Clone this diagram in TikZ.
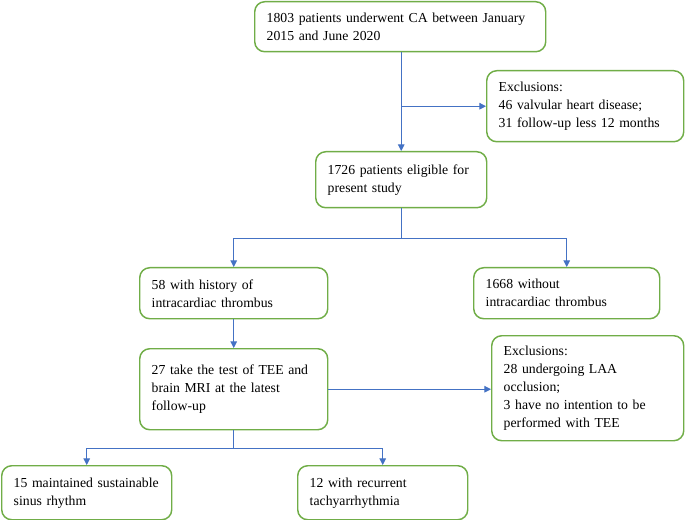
\documentclass[tikz,border=0pt]{standalone}
\usepackage{fontspec}
\setmainfont{Liberation Serif}
\usetikzlibrary{arrows.meta}
\definecolor{boxgreen}{HTML}{70AD47}
\definecolor{linkblue}{HTML}{4472C4}
\tikzset{
  flowbox/.style={draw=boxgreen, line width=1.1pt, rounded corners=7.5pt,
    anchor=north west, align=left, inner xsep=9pt, inner ysep=2pt,
    font=\fontsize{10.3}{13.5}\selectfont},
  conn/.style={draw=linkblue, line width=0.75pt, -{Triangle[length=5pt,width=5pt]}},
  plainline/.style={draw=linkblue, line width=0.75pt}
}
\begin{document}
\begin{tikzpicture}[x=0.75pt,y=-0.75pt]
\useasboundingbox (0,0) rectangle (685,520);
\node[flowbox, minimum width=218.25pt, minimum height=37.5pt, text width=200.25pt] (b1) at (254,1)
  {1803 patients underwent CA between January\\2015 and June 2020};
\node[flowbox, minimum width=147.75pt, minimum height=53.25pt, text width=129.75pt] (e1) at (486,70)
  {Exclusions:\\46 valvular heart disease;\\31 follow-up less 12 months};
\node[flowbox, minimum width=128.25pt, minimum height=42pt, text width=110.25pt] (b2) at (315,151)
  {1726 patients eligible for\\present study};
\node[flowbox, minimum width=141pt, minimum height=38.25pt, text width=123pt] (b3) at (139,267)
  {58 with history of\\intracardiac thrombus};
\node[flowbox, minimum width=139.5pt, minimum height=38.25pt, text width=121.5pt] (b4) at (473,267)
  {1668 without\\intracardiac thrombus};
\node[flowbox, minimum width=141pt, minimum height=60.75pt, text width=123pt] (b5) at (139,348)
  {27 take the test of TEE and\\brain MRI at the latest\\follow-up};
\node[flowbox, minimum width=144pt, minimum height=78.75pt, text width=126pt] (e2) at (491,335)
  {Exclusions:\\28 undergoing LAA\\occlusion;\\3 have no intention to be\\performed with TEE};
\node[flowbox, minimum width=127.5pt, minimum height=40.5pt, text width=109.5pt] (b6) at (1,465)
  {15 maintained sustainable\\sinus rhythm};
\node[flowbox, minimum width=127.5pt, minimum height=40.5pt, text width=109.5pt] (b7) at (297,465)
  {12 with recurrent\\tachyarrhythmia};
% connectors
\draw[conn] (b2.north |- b1.south) -- (b2.north);
\draw[conn] (b2.north |- e1.west) -- (e1.west);
\path (b2.south) ++(0,30) coordinate (j2);
\draw[plainline] (b2.south) -- (j2);
\draw[conn] (j2) -| (b3.north);
\draw[conn] (j2) -| (b4.north);
\draw[conn] (b3.south) -- (b5.north);
\draw[conn] (b5.east) -- (b5.east -| e2.west);
\path (b5.south) ++(0,18) coordinate (j5);
\draw[plainline] (b5.south) -- (j5);
\draw[conn] (j5) -| (b6.north);
\draw[conn] (j5) -| (b7.north);
\end{tikzpicture}
\end{document}
